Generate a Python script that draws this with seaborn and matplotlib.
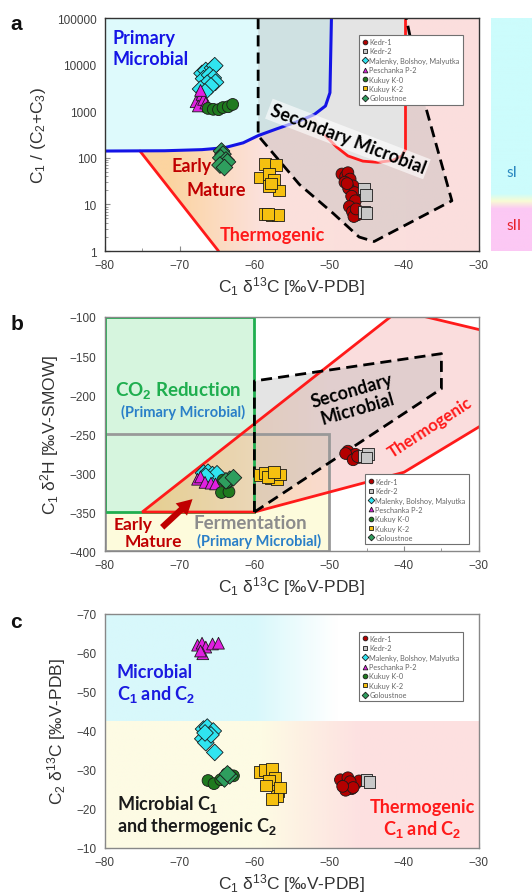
import numpy as np
import pandas as pd
import matplotlib
matplotlib.use("Agg")
import matplotlib.pyplot as plt
import seaborn as sns
from matplotlib.colors import LinearSegmentedColormap
from matplotlib.patches import Polygon, Rectangle
from matplotlib.ticker import MultipleLocator, LogLocator, NullFormatter

sns.set_style("ticks")
plt.rcParams["font.family"] = ["Liberation Sans", "DejaVu Sans"]
plt.rcParams["mathtext.fontset"] = "custom"
plt.rcParams["mathtext.rm"] = "Liberation Sans"
plt.rcParams["mathtext.it"] = "Liberation Sans:italic"
plt.rcParams["mathtext.bf"] = "Liberation Sans:bold"
ANN = ["Lato", "DejaVu Sans"]

# ---------------- data ----------------
sites = ["Kedr-1", "Kedr-2", "Malenky, Bolshoy, Malyutka", "Peschanka P-2",
         "Kukuy K-0", "Kukuy K-2", "Goloustnoe"]
site_colors = ["#b40000", "#c8c8c8", "#30e4f0", "#e020e0", "#1f7a1f", "#f5c010", "#2e9e5e"]
site_markers = ["o", "s", "D", "^", "o", "s", "D"]

# panel a : C1 d13C vs C1/(C2+C3)
a_x = [
    [-48.3, -47.8, -47.5, -47.2, -47.9, -46.8, -47.4, -46.6, -47.0, -46.5, -47.3, -46.9, -46.2, -46.7, -47.6, -46.4],
    [-45.3, -45.1, -45.4, -45.0],
    [-67.0, -66.5, -65.6, -65.3, -66.8, -66.0, -65.5, -65.2, -66.3, -65.8, -67.2, -66.6],
    [-67.8, -67.5, -67.0, -66.8, -66.5, -67.2, -66.2],
    [-66.2, -65.5, -64.8, -64.2, -63.5, -62.9],
    [-58.6, -57.1, -59.2, -58.0, -57.4, -56.7, -58.1, -57.8, -58.6, -57.7, -56.8, -58.2],
    [-64.4, -64.2, -64.5, -63.8, -63.6, -64.6, -64.0],
]
a_y = [
    [45, 40, 48, 35, 30, 25, 22, 18, 15, 12, 9, 7, 6, 5.5, 28, 8],
    [22, 16, 7, 6.5],
    [6500, 7500, 8500, 9500, 5000, 6000, 5200, 4200, 4000, 3500, 3000, 2600],
    [1600, 1300, 2300, 1800, 1500, 2800, 1300],
    [1150, 1100, 1080, 1200, 1250, 1400],
    [74, 70, 38, 45, 34, 20, 25, 28, 6.2, 5.8, 6.0, 6.3],
    [140, 120, 100, 90, 82, 70, 62],
]

# panel b : C1 d13C vs C1 d2H
b_x = [
    [-47.5, -47.0, -46.5, -46.0, -47.8, -46.8, -46.2],
    [-45.3, -44.8, -45.0],
    [-66.8, -66.2, -65.6, -65.0, -66.5],
    [-67.6, -67.2, -66.6, -65.8, -65.2],
    [-64.4, -63.4, -64.2, -63.6],
    [-59.3, -58.6, -57.8, -57.0, -56.6, -58.2, -57.4],
    [-63.3, -63.8, -62.8],
]
b_y = [
    [-272, -278, -276, -280, -275, -283, -279],
    [-278, -276, -280],
    [-300, -299, -302, -301, -304],
    [-308, -305, -312, -313, -314],
    [-325, -324, -309, -312],
    [-303, -300, -306, -308, -302, -305, -299],
    [-308, -310, -306],
]

# panel c : C1 d13C vs C2 d13C
c_x = [
    [-48.5, -48.0, -47.5, -47.0, -46.5, -46.0, -47.8, -47.2, -46.8, -48.2],
    [-45.0, -44.6],
    [-66.8, -66.3, -65.5, -66.9, -66.5, -65.8, -65.3, -66.6],
    [-67.6, -67.0, -66.5, -65.6, -64.8, -66.9, -67.2],
    [-66.2, -65.4, -64.5, -63.7, -62.8],
    [-59.2, -58.6, -57.6, -57.2, -58.0, -56.8, -57.0, -58.4, -57.6, -56.6],
    [-64.0, -63.3, -63.6],
]
c_y = [
    [-27.5, -26.0, -28.0, -25.2, -26.5, -27.2, -24.8, -27.0, -25.5, -25.8],
    [-27.5, -27.0],
    [-40.5, -41.0, -40.0, -38.0, -37.0, -39.0, -34.5, -39.5],
    [-62.0, -62.5, -61.5, -62.3, -62.5, -59.8, -60.5],
    [-27.3, -26.5, -27.5, -29.0, -28.5],
    [-29.5, -30.0, -30.3, -28.0, -27.3, -24.7, -23.4, -26.0, -22.5, -25.5],
    [-27.7, -28.5, -29.0],
]

# genetic field boundaries
blue_x = [-80, -72, -67, -64, -61.5, -59.5, -57, -54, -52, -50.5, -49.9, -49.7]
blue_y = [140, 142, 150, 165, 210, 300, 420, 620, 850, 1300, 2500, 100000]
red_left_x = [-75.3, -64.8]
red_left_y = [140, 1]
red_right_x = [-39.8, -39.8, -40.3, -41.5, -43.5, -45.5, -47.5, -49.0, -50.5]
red_right_y = [100000, 150, 110, 88, 80, 85, 110, 170, 300]
sec_a_x = [-59.5, -59.5, -54, -49.5, -46, -44, -33.6, -37.5, -39.7]
sec_a_y = [100000, 300, 27, 6.5, 2.0, 1.6, 12, 2100, 100000]

co2_box = [-80, -60, -350, -100]
ferm_box = [-80, -50, -400, -250]
thermo_b_x = [-75, -40.7, -25, -25, -40, -60]
thermo_b_y = [-350, -91.5, -127.5, -212, -299, -350]
sec_b_x = [-60, -60, -35, -35, -60]
sec_b_y = [-350, -182, -147, -192, -350]
arrow_b = [(-72.6, -372), (-68.0, -331)]
split_c = -42.6


def frame(df_x, df_y):
    rows = []
    for s, xs, ys in zip(sites, df_x, df_y):
        for x, y in zip(xs, ys):
            rows.append((s, x, y))
    return pd.DataFrame(rows, columns=["site", "x", "y"])


def shade(ax, stops, px, py, alpha=1.0, z=1):
    cmap = LinearSegmentedColormap.from_list("", stops)
    img = ax.imshow(np.linspace(0, 1, 256)[None, :], cmap=cmap, extent=[0, 1, 0, 1],
                    transform=ax.transAxes, aspect="auto", alpha=alpha, zorder=z,
                    interpolation="bilinear")
    clip = Polygon(np.column_stack([px, py]), closed=True, transform=ax.transData)
    img.set_clip_path(clip)


def points(ax, df, loc, anchor):
    sns.scatterplot(data=df, x="x", y="y", hue="site", style="site", hue_order=sites,
                    style_order=sites, palette=dict(zip(sites, site_colors)),
                    markers=dict(zip(sites, site_markers)), s=72, edgecolor="#1a1a1a",
                    linewidth=0.6, zorder=6, ax=ax)
    sns.move_legend(ax, loc, bbox_to_anchor=anchor, title=None,
                    frameon=True, fancybox=False, edgecolor="#707070", framealpha=1,
                    markerscale=0.4, labelspacing=0.32, handletextpad=0.1,
                    borderpad=0.45, handlelength=0.9, prop={"family": ANN, "size": 5.3})
    leg = ax.get_legend()
    leg.get_frame().set_linewidth(0.8)
    leg.set_zorder(10)
    for t in leg.get_texts():
        t.set_color("#666666")


def style(ax, spine="#555555"):
    ax.set_xlim(-80, -30)
    ax.set_xticks(np.arange(-80, -29, 10))
    ax.xaxis.set_minor_locator(MultipleLocator(5))
    ax.tick_params(which="both", direction="in", color="#8a8a8a", labelcolor="#404040",
                   labelsize=8.5, pad=6)
    ax.tick_params(which="major", length=3.5)
    ax.tick_params(which="minor", length=2)
    for sp in ax.spines.values():
        sp.set_color(spine)
        sp.set_linewidth(1.0)
        sp.set_zorder(8)
    ax.set_xlabel(r"C$_1$ δ$^{13}$C [‰V-PDB]", fontsize=12.5, color="#333333", labelpad=2)


def label(ax, x, y, s, color, size=13, **kw):
    ax.text(x, y, s, transform=ax.transAxes, color=color, fontsize=size,
            fontweight="bold", family=ANN, ha=kw.pop("ha", "center"),
            va=kw.pop("va", "center"), zorder=kw.pop("zorder", 7), **kw)


fig = plt.figure(figsize=(5.32, 8.95), dpi=100)

# ================= panel a =================
ax = fig.add_axes([0.197, 0.7184, 0.703, 0.2603])
ax.set_yscale("log")
ax.set_xlim(-80, -30)
ax.set_ylim(1, 100000)
ax.set_autoscale_on(False)

ax.fill(blue_x + [-80], blue_y + [100000], color="#defafc", zorder=1, lw=0)
keep = [i for i, v in enumerate(blue_x) if v <= -52][::-1]
th_x = red_left_x + [-30, -30] + red_right_x + [blue_x[i] for i in keep]
th_y = red_left_y + [1, 100000] + red_right_y + [blue_y[i] for i in keep]
shade(ax, [(0, "#fcd4a0"), (0.17, "#fcd4a0"), (0.42, "#fbe1dc"), (1, "#fbdede")],
      th_x, th_y, z=1)
ax.fill(sec_a_x, sec_a_y, color="#b4b4b4", alpha=0.35, lw=0, zorder=2)
ax.plot(sec_a_x, sec_a_y, color="black", ls=(0, (4, 2.2)), lw=2, zorder=4)
ax.plot(red_left_x, red_left_y, color="#ff1a1a", lw=2, zorder=3)
ax.plot(red_right_x, red_right_y, color="#ff1a1a", lw=2, zorder=3)
ax.plot(blue_x, blue_y, color="#1414e6", lw=2.2, zorder=4)

points(ax, frame(a_x, a_y), "upper right", (0.968, 0.944))
style(ax, "#333333")
ax.set_yticks([1, 10, 100, 1000, 10000, 100000])
ax.set_yticklabels(["1", "10", "100", "1000", "10000", "100000"])
ax.yaxis.set_minor_locator(LogLocator(base=10, subs=np.arange(2, 10)))
ax.yaxis.set_minor_formatter(NullFormatter())
ax.set_ylabel(r"C$_1$ / (C$_2$+C$_3$)", fontsize=12.5, color="#333333", labelpad=6)

label(ax, 0.021, 0.953, "Primary\nMicrobial", "#1414e6", ha="left", va="top", linespacing=1.3)
label(ax, 0.650, 0.481, "Secondary Microbial", "black", rotation=-21,
      rotation_mode="anchor",
      bbox=dict(facecolor="white", alpha=0.6, edgecolor="none", pad=1.5))
label(ax, 0.233, 0.369, "Early", "#c00000")
label(ax, 0.297, 0.262, "Mature", "#c00000")
label(ax, 0.447, 0.073, "Thermogenic", "#ff1a1a")

# side bar sI / sII
bx = fig.add_axes([491 / 532, 0.7184, 0.1, 0.2603])
bar = LinearSegmentedColormap.from_list("", [(0, "#fcc8f4"), (0.18, "#fcc8f4"),
                                             (0.214, "#f8fcd4"), (0.245, "#ccfcfc"),
                                             (1, "#ccfcfc")])
bx.imshow(np.linspace(0, 1, 256)[:, None], cmap=bar, origin="lower", aspect="auto",
          extent=[0, 1, 0, 1])
bx.axis("off")
fig.text(506 / 532, 1 - 173 / 895, "sI", color="#2a88c0", fontsize=11, family=ANN,
         ha="left", va="center")
fig.text(506 / 532, 1 - 226 / 895, "sII", color="#e8202a", fontsize=11, family=ANN,
         ha="left", va="center")

# ================= panel b =================
ax = fig.add_axes([0.197, 0.3832, 0.703, 0.2615])
ax.set_xlim(-80, -30)
ax.set_ylim(-400, -100)
ax.set_autoscale_on(False)

ax.add_patch(Rectangle((ferm_box[0], ferm_box[2]), ferm_box[1] - ferm_box[0],
                       ferm_box[3] - ferm_box[2], facecolor="#fdfbdc", lw=0, zorder=1))
ax.add_patch(Rectangle((co2_box[0], co2_box[2]), co2_box[1] - co2_box[0],
                       co2_box[3] - co2_box[2], facecolor="#d6f5de", lw=0, zorder=1))
shade(ax, [(0, "#f0b860"), (0.1, "#f0b860"), (0.4, "#f8c4a0"), (0.6, "#f8c8c8"),
           (1, "#f8caca")], thermo_b_x, thermo_b_y, alpha=0.62, z=2)
ax.fill(sec_b_x, sec_b_y, color="#b4b4b4", alpha=0.35, lw=0, zorder=2)
ax.add_patch(Rectangle((ferm_box[0], ferm_box[2]), ferm_box[1] - ferm_box[0],
                       ferm_box[3] - ferm_box[2], facecolor="none", edgecolor="#999999",
                       lw=2, zorder=3))
ax.add_patch(Rectangle((co2_box[0], co2_box[2]), co2_box[1] - co2_box[0],
                       co2_box[3] - co2_box[2], facecolor="none", edgecolor="#1fae4f",
                       lw=2, zorder=3))
ax.add_patch(Polygon(np.column_stack([thermo_b_x, thermo_b_y]), closed=True,
                     facecolor="none", edgecolor="#ff1a1a", lw=2, zorder=4))
ax.plot(sec_b_x, sec_b_y, color="black", ls=(0, (4, 2.2)), lw=2, zorder=5)
ax.annotate("", xy=arrow_b[1], xytext=arrow_b[0], zorder=7,
            arrowprops=dict(arrowstyle="simple,head_length=1.1,head_width=1.2,tail_width=0.45",
                            color="#c00000", lw=0))

points(ax, frame(b_x, b_y), "lower right", (0.984, 0.013))
style(ax, "#888888")
ax.set_yticks(np.arange(-400, -99, 50))
ax.yaxis.set_minor_locator(MultipleLocator(10))
ax.set_ylabel(r"C$_1$ δ$^2$H [‰V-SMOW]", fontsize=12.5, color="#333333", labelpad=6)

label(ax, 0.195, 0.692, r"CO$_\mathbf{2}$ Reduction", "#1fae4f", size=13.5)
label(ax, 0.209, 0.598, "(Primary Microbial)", "#2a7fc8", size=10.5)
label(ax, 0.668, 0.650, "Secondary\nMicrobial", "black", size=13, rotation=16,
      rotation_mode="anchor", linespacing=1.15)
label(ax, 0.869, 0.530, "Thermogenic", "#ff1a1a", size=12, rotation=33,
      rotation_mode="anchor")
label(ax, 0.075, 0.115, "Early", "#c00000", size=12.5)
label(ax, 0.131, 0.043, "Mature", "#c00000", size=12.5)
label(ax, 0.390, 0.120, "Fermentation", "#8c8c8c", size=13.5)
label(ax, 0.412, 0.047, "(Primary Microbial)", "#2a7fc8", size=10.5)

# ================= panel c =================
ax = fig.add_axes([0.197, 0.0514, 0.703, 0.2615])
ax.set_xlim(-80, -30)
ax.set_ylim(-10, -70)
ax.set_autoscale_on(False)

shade(ax, [(0, "#d8f8fb"), (0.4, "#d8f8fb"), (0.62, "#ffffff"), (1, "#ffffff")],
      [-80, -30, -30, -80], [-70, -70, split_c, split_c], z=1)
shade(ax, [(0, "#fdfbe4"), (0.42, "#fdfbe4"), (0.68, "#fde1e1"), (1, "#fde0e0")],
      [-80, -30, -30, -80], [split_c, split_c, -10, -10], z=1)

points(ax, frame(c_x, c_y), "upper right", (0.968, 0.94))
style(ax, "#888888")
ax.set_yticks(np.arange(-70, -9, 10))
ax.yaxis.set_minor_locator(MultipleLocator(5))
ax.set_ylabel(r"C$_2$ δ$^{13}$C [‰V-PDB]", fontsize=12.5, color="#333333", labelpad=6)

label(ax, 0.032, 0.752, "Microbial", "#1a1ae0", ha="left")
label(ax, 0.032, 0.658, r"C$_\mathbf{1}$ and C$_\mathbf{2}$", "#1a1ae0", ha="left")
label(ax, 0.032, 0.188, r"Microbial C$_\mathbf{1}$", "#1a1a1a", ha="left")
label(ax, 0.032, 0.094, r"and thermogenic C$_\mathbf{2}$", "#1a1a1a", ha="left")
label(ax, 0.850, 0.179, "Thermogenic", "#ff1a1a")
label(ax, 0.850, 0.085, r"C$_\mathbf{1}$ and C$_\mathbf{2}$", "#ff1a1a")

for txt, yy in [("a", 25), ("b", 325), ("c", 622)]:
    fig.text(0.019, 1 - yy / 895, txt, fontsize=15, fontweight="bold", ha="left",
             va="center", color="#111111")

fig.savefig("out.png", dpi=100)
